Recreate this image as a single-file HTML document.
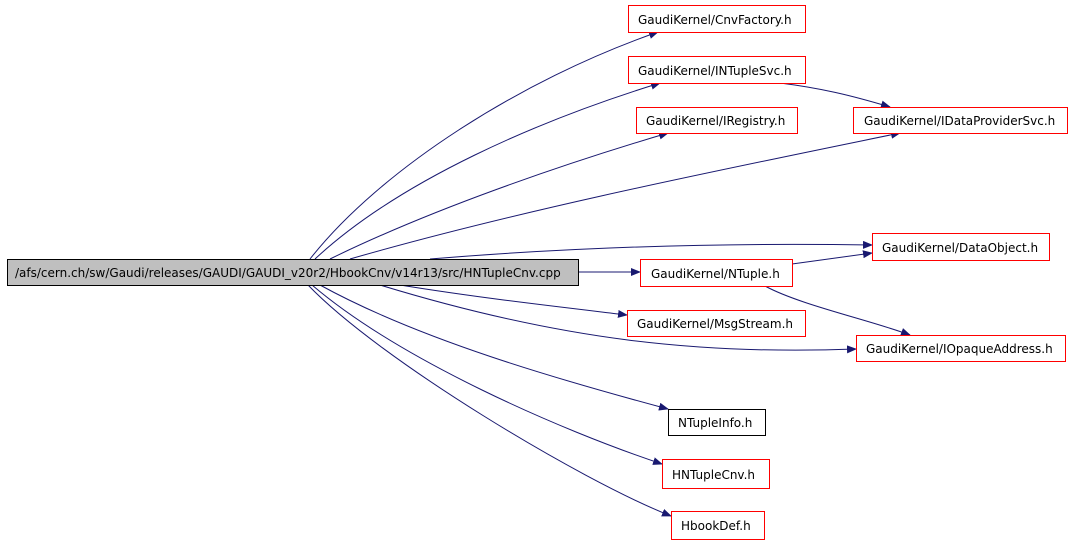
<!DOCTYPE html>
<html><head><style>
body{margin:0;background:#fff}
svg text{font-family:"DejaVu Sans","Liberation Sans",sans-serif;font-size:12px;fill:#000}
</style></head><body>
<svg width="1072" height="544" viewBox="0 0 1072 544" xmlns="http://www.w3.org/2000/svg">
<defs><marker id="a" markerWidth="10" markerHeight="8" refX="9" refY="4" orient="auto" markerUnits="userSpaceOnUse"><path d="M0,0 L10,4 L0,8 z" fill="#191970"/></marker></defs>
<g fill="none" stroke="#191970" stroke-width="1" marker-end="url(#a)">
<path d="M310,259 C380,170 520,80 658,32"/>
<path d="M315,259 C400,180 540,120 660,83"/>
<path d="M330,259 C430,210 560,165 668,133"/>
<path d="M350,259 C520,210 720,170 900,133"/>
<path d="M430,259 C600,245 750,243 872,245"/>
<path d="M579,272 L640,272"/>
<path d="M400,285 C480,298 560,307 627,315"/>
<path d="M380,285 C560,340 700,355 856,349"/>
<path d="M320,285 C420,340 560,380 668,409"/>
<path d="M312,285 C400,360 560,430 662,464"/>
<path d="M308,285 C380,360 580,480 671,516"/>
<path d="M780,83 C820,88 850,95 890,107"/>
<path d="M792,264 L872,253"/>
<path d="M765,286 C800,305 870,320 910,335"/>
</g>
<rect x="7.5" y="259.5" width="571" height="26" fill="#bfbfbf" stroke="#000"/>
<text x="15" y="277">/afs/cern.ch/sw/Gaudi/releases/GAUDI/GAUDI_v20r2/HbookCnv/v14r13/src/HNTupleCnv.cpp</text>
<g fill="#fff" stroke="#f00">
<rect x="628.5" y="5.5" width="177" height="27"/>
<rect x="628.5" y="56.5" width="177" height="27"/>
<rect x="636.5" y="107.5" width="161" height="26"/>
<rect x="853.5" y="107.5" width="214" height="26"/>
<rect x="872.5" y="233.5" width="177" height="27"/>
<rect x="640.5" y="259.5" width="152" height="27"/>
<rect x="627.5" y="310.5" width="178" height="26"/>
<rect x="856.5" y="335.5" width="209" height="26"/>
<rect x="662.5" y="459.5" width="107" height="29"/>
<rect x="671.5" y="511.5" width="93" height="28"/>
</g>
<rect x="668.5" y="409.5" width="97" height="26" fill="#fff" stroke="#000"/>
<text x="638" y="24">GaudiKernel/CnvFactory.h</text>
<text x="638" y="75">GaudiKernel/INTupleSvc.h</text>
<text x="646" y="125">GaudiKernel/IRegistry.h</text>
<text x="864" y="125">GaudiKernel/IDataProviderSvc.h</text>
<text x="882" y="252">GaudiKernel/DataObject.h</text>
<text x="651" y="278">GaudiKernel/NTuple.h</text>
<text x="637" y="328">GaudiKernel/MsgStream.h</text>
<text x="866" y="353">GaudiKernel/IOpaqueAddress.h</text>
<text x="678" y="427">NTupleInfo.h</text>
<text x="672" y="479">HNTupleCnv.h</text>
<text x="681" y="530">HbookDef.h</text>
</svg>
</body></html>
